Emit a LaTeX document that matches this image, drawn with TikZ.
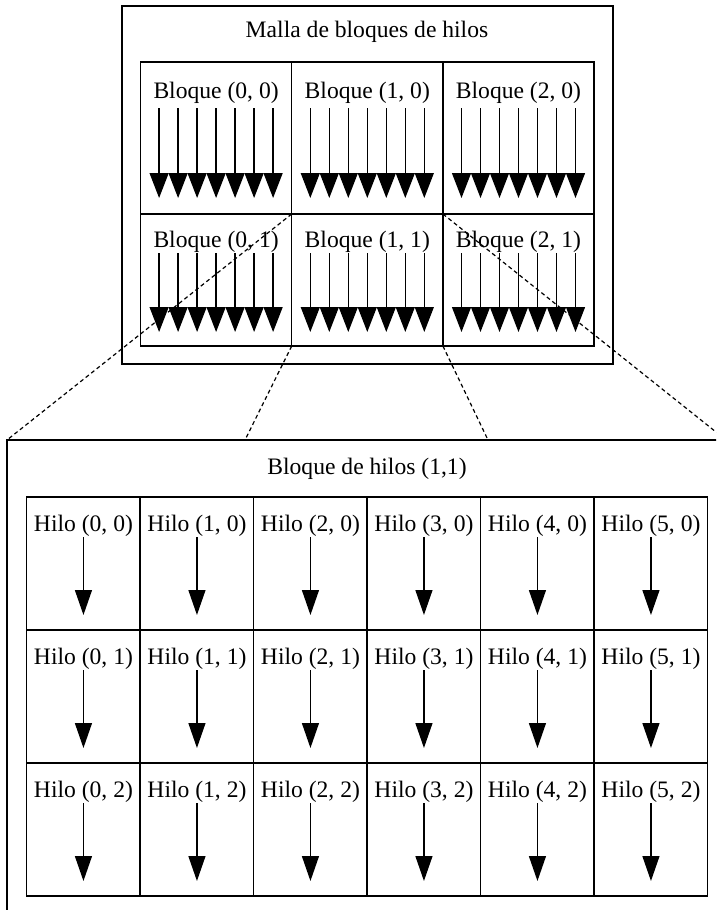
\documentclass[tikz,border=0pt]{standalone}
\usepackage{fontspec}
\setmainfont{Liberation Serif}
\usetikzlibrary{arrows.meta}
\begin{document}
\begin{tikzpicture}[x=1pt,y=-1pt,
  frame/.style={draw,line width=1.5pt,inner sep=0pt,outer sep=0pt},
  lbl/.style={anchor=base,inner sep=0pt,font=\fontsize{23.6}{28}\selectfont},
  warp/.style={line width=1.3pt,-{Triangle[width=19pt,length=25pt]}},
  thread/.style={line width=1.3pt,-{Triangle[width=17pt,length=25pt]}},
  zoomline/.style={line width=1.2pt,dash pattern=on 4pt off 3pt}]
\useasboundingbox (0,0) rectangle (716,910);
\clip (0,0) rectangle (716,910);

% grid of blocks
\node[frame,minimum width=491pt,minimum height=358pt] (grid) at (367.5,185) {};
\node[lbl] (gridtitle) at (367,37) {Malla de bloques de hilos};

\foreach \i in {0,1,2} {
  \pgfmathsetmacro\cx{140.5+151.2*\i+75.6}
  % first row of blocks
  \node[frame,minimum width=151.2pt,minimum height=152pt] (b\i0) at (\cx,138) {};
  \node[lbl] (lb\i0) at (\cx,98) {Bloque (\i, 0)};
  \foreach \k in {-3,...,3}
    \draw[warp] ({\cx+19*\k},108) -- ({\cx+19*\k},198);
  % second row of blocks
  \node[frame,minimum width=151.2pt,minimum height=132pt] (b\i1) at (\cx,280) {};
  \node[lbl] (lb\i1) at (\cx,247) {Bloque (\i, 1)};
  \foreach \k in {-3,...,3}
    \draw[warp] ({\cx+19*\k},253) -- ({\cx+19*\k},332);
}

% enlarged block (1,1)
\node[frame,minimum width=719pt,minimum height=500pt] (tb) at (366.5,690) {};
\node[lbl] (tbtitle) at (367,474) {Bloque de hilos (1,1)};

\foreach \j/\top in {0/497,1/630,2/763} {
  \foreach \i in {0,...,5} {
    \pgfmathsetmacro\cx{26.7+113.5*\i+56.75}
    \node[frame,minimum width=113.5pt,minimum height=133pt] (t\i\j) at (\cx,\top+66.5) {};
    \node[lbl] (lt\i\j) at (\cx,\top+34.5) {Hilo (\i, \j)};
    \draw[thread] (\cx,\top+40) -- (\cx,\top+118);
  }
}

% projection lines
\coordinate (tbl) at (245,440);
\coordinate (tbr) at (488,440);
\draw[zoomline] (b11.north west) -- (tb.north west);
\draw[zoomline] (b11.north east) -- (tb.north east);
\draw[zoomline] (b11.south west) -- (tbl);
\draw[zoomline] (b11.south east) -- (tbr);
\end{tikzpicture}
\end{document}
